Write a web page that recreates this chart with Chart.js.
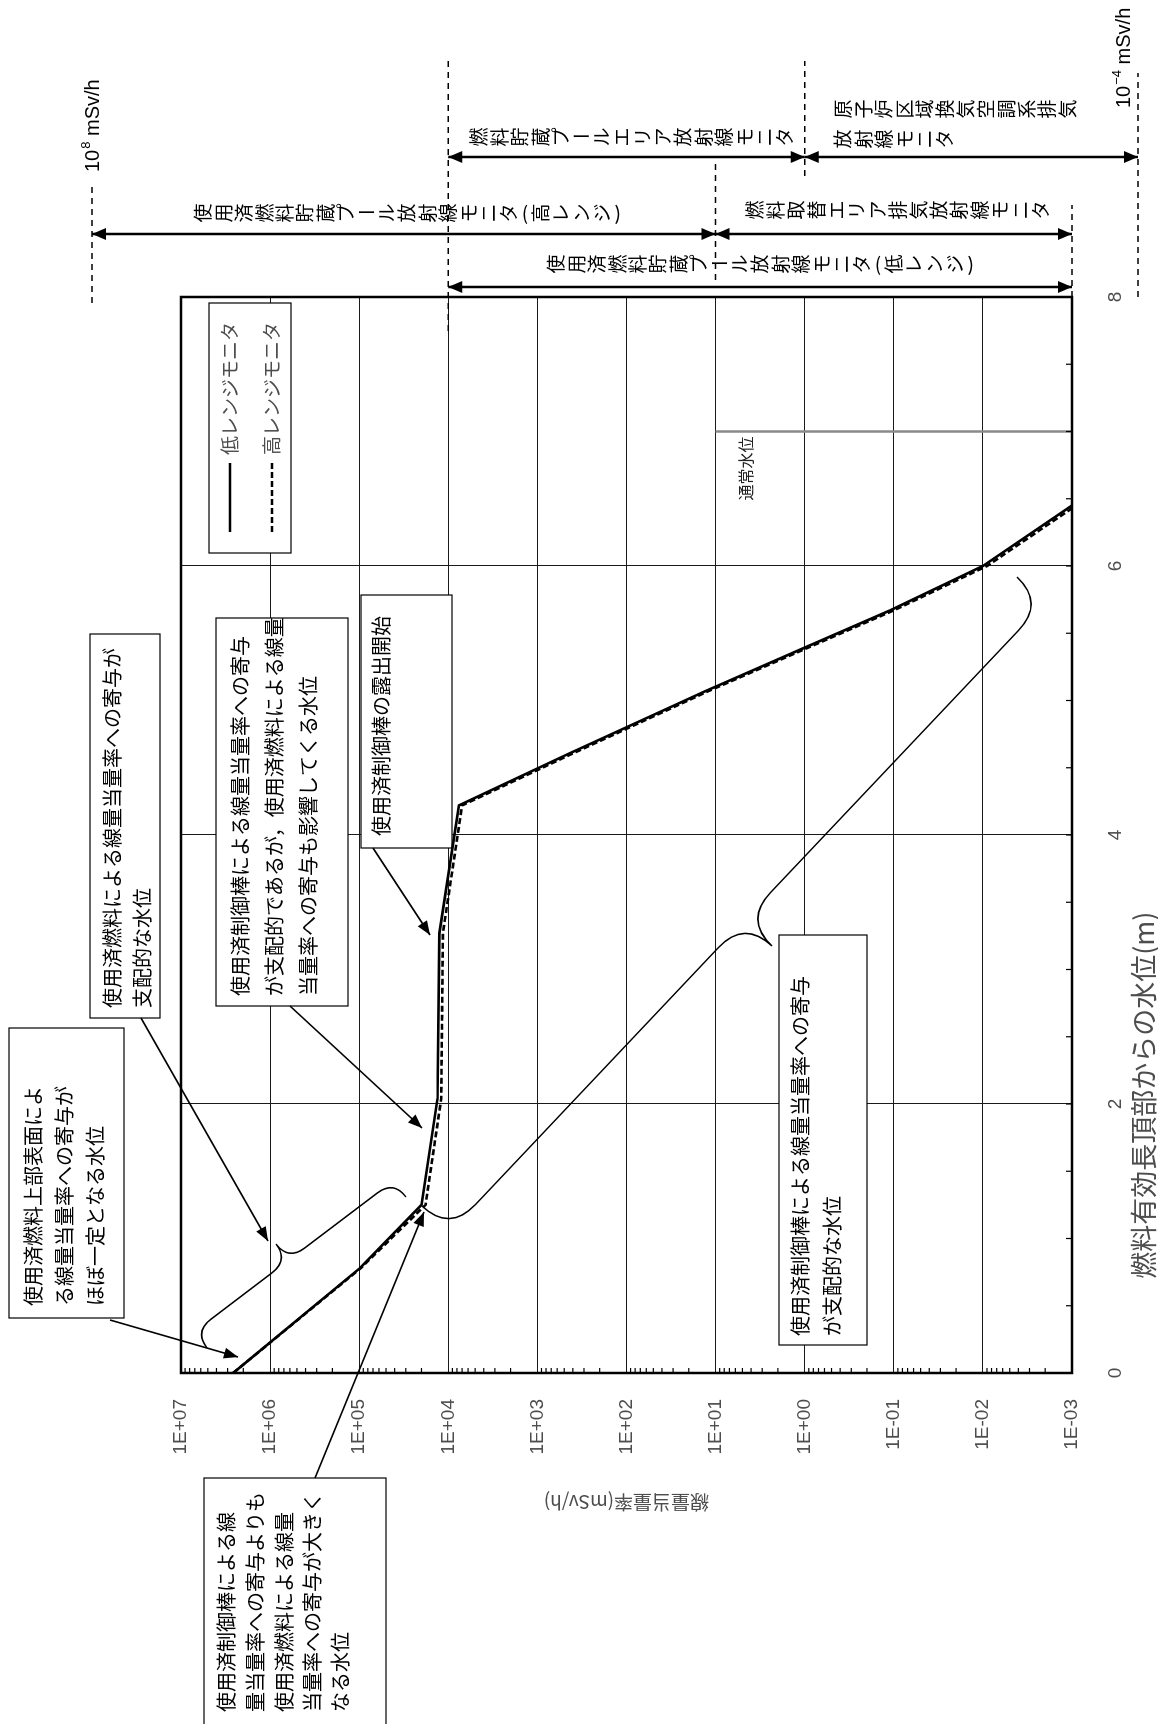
<!DOCTYPE html>
<html lang="ja">
<head>
<meta charset="UTF-8">
<title>燃料有効長頂部からの水位と線量当量率</title>
<script src="https://cdn.jsdelivr.net/npm/chart.js"></script>
<style>
  body { margin: 0; padding: 0; background: #ffffff; width: 1158px; height: 1724px; overflow: hidden; }
  /* the figure is drawn in landscape and then turned a quarter to the left, like the printed page */
  #sheet { position: absolute; left: 0; top: 0; width: 1724px; height: 1158px;
           transform-origin: 0 0; transform: translate(0, 1724px) rotate(-90deg); }
  canvas { display: block; }
</style>
</head>
<body>
<div id="sheet"><canvas id="doseChart" width="1724" height="1158"></canvas></div>
<script>
// ---- values ----
var waterLevel    = [0, 0.78, 1.25, 2.04, 3.27, 4.22, 4.60, 5.07, 5.37, 5.67, 6.00, 6.45];
var lowRangeDose  = [2.6e6, 9.8e4, 2.0e4, 1.32e4, 1.26e4, 7.6e3, 4.6e2, 1.3e1, 1.2e0, 1.1e-1, 1.0e-2, 1.0e-3];
var highRangeDose = [2.6e6, 9.6e4, 1.8e4, 1.2e4, 1.15e4, 7.0e3, 4.2e2, 1.2e1, 1.1e0, 1.0e-1, 9.0e-3, 9.0e-4];
var seriesNames   = ['低レンジモニタ', '高レンジモニタ'];

var doseTicks  = [1e7, 1e6, 1e5, 1e4, 1e3, 1e2, 1e1, 1e0, 1e-1, 1e-2, 1e-3];
var levelTicks = [0, 2, 4, 6, 8];

var normalLevel = 7.0;          // grey line
var normalLevelFromDose = 1e1;
var normalLevelLabel = '通常水位';

// monitor measuring ranges (dose at both ends)
var monitorNames = ['使用済燃料貯蔵プール放射線モニタ(高レンジ)', '燃料取替エリア排気放射線モニタ',
                    '使用済燃料貯蔵プール放射線モニタ(低レンジ)', '燃料貯蔵プールエリア放射線モニタ',
                    '原子炉区域換気空調系排気'];
var monitorFrom = [1e8, 1e1, 1e4, 1e4, 1e0];
var monitorTo   = [1e1, 1e-3, 1e-3, 1e0, 1e-4];

var SHEET_W = 1724;
var FONT_JP = '"Noto Sans CJK JP", "Noto Sans", sans-serif';
var FONT_LAT = '"Liberation Sans", Arial, sans-serif';

// position helper: measured on the printed (turned) page, drawn on the landscape sheet
function toSheet(ix, iy) { return { x: SHEET_W - iy, y: ix }; }

// annotation boxes: box = [left, top, right, bottom] on the page, lineX = page x of each line, startY = page y where text starts
var notes = [
  { box: [9, 1028, 124, 1318], lineX: [33, 64, 95], startY: 1306,
    lines: ['使用済燃料上部表面によ', 'る線量当量率への寄与が', 'ほぼ一定となる水位'] },
  { box: [90, 634, 160, 1018], lineX: [112, 142], startY: 1008,
    lines: ['使用済燃料による線量当量率への寄与が', '支配的な水位'] },
  { box: [216, 618, 348, 1006], lineX: [240, 274, 308], startY: 996,
    lines: ['使用済制御棒による線量当量率への寄与', 'が支配的であるが，使用済燃料による線量', '当量率への寄与も影響してくる水位'] },
  { box: [361, 595, 452, 848], lineX: [381], startY: 836,
    lines: ['使用済制御棒の露出開始'] },
  { box: [779, 935, 867, 1345], lineX: [800, 832], startY: 1336,
    lines: ['使用済制御棒による線量当量率への寄与', 'が支配的な水位'] },
  { box: [204, 1478, 386, 1726], lineX: [226, 255, 284, 312, 340], startY: 1712,
    lines: ['使用済制御棒による線', '量当量率への寄与よりも', '使用済燃料による線量', '当量率への寄与が大きく', 'なる水位'] }
];
var noteArrows = [
  [110, 1320, 238, 1357],
  [141, 1018, 268, 1241],
  [290, 1006, 422, 1128],
  [373, 848, 430, 935],
  [315, 1478, 424, 1212]
];
// braces: two ends and the tip of the middle nub
var braces = [
  [207, 1348, 406, 1197, 276, 1244],
  [422, 1206, 1017, 577, 772, 946]
];

function sciLabel(v) {
  var e = Math.round(Math.log10(v));
  var a = Math.abs(e);
  return '1E' + (e < 0 ? '-' : '+') + (a < 10 ? '0' : '') + a;
}

function line(ctx, p, q) { ctx.beginPath(); ctx.moveTo(p.x, p.y); ctx.lineTo(q.x, q.y); ctx.stroke(); }

function arrowHead(ctx, from, to, len, hw) {
  var dx = to.x - from.x, dy = to.y - from.y, L = Math.sqrt(dx * dx + dy * dy);
  var ux = dx / L, uy = dy / L;
  ctx.beginPath();
  ctx.moveTo(to.x, to.y);
  ctx.lineTo(to.x - ux * len - uy * hw, to.y - uy * len + ux * hw);
  ctx.lineTo(to.x - ux * len + uy * hw, to.y - uy * len - ux * hw);
  ctx.closePath();
  ctx.fill();
}

function drawBrace(ctx, A, B, N) {
  var dx = B.x - A.x, dy = B.y - A.y, L = Math.sqrt(dx * dx + dy * dy);
  var u = { x: dx / L, y: dy / L };
  var n = { x: -u.y, y: u.x };
  var depth = (N.x - A.x) * n.x + (N.y - A.y) * n.y;
  if (depth < 0) { n.x = -n.x; n.y = -n.y; depth = -depth; }
  var t = (N.x - A.x) * u.x + (N.y - A.y) * u.y;
  var h = depth / 2;
  function P(s, d) { return { x: A.x + u.x * s + n.x * d, y: A.y + u.y * s + n.y * d }; }
  ctx.beginPath();
  var p = P(0, 0); ctx.moveTo(p.x, p.y);
  var c = P(0, h), e = P(h, h); ctx.quadraticCurveTo(c.x, c.y, e.x, e.y);
  e = P(t - h, h); ctx.lineTo(e.x, e.y);
  c = P(t, h); e = P(t, depth); ctx.quadraticCurveTo(c.x, c.y, e.x, e.y);
  c = P(t, h); e = P(t + h, h); ctx.quadraticCurveTo(c.x, c.y, e.x, e.y);
  e = P(L - h, h); ctx.lineTo(e.x, e.y);
  c = P(L, h); e = P(L, 0); ctx.quadraticCurveTo(c.x, c.y, e.x, e.y);
  ctx.stroke();
}

// vertical writing, one character under the other (brackets take half a cell)
function drawTate(ctx, text, x, y0, pitch) {
  var y = y0;
  for (var i = 0; i < text.length; i++) {
    var ch = text.charAt(i);
    var turned = 'ー()（）'.indexOf(ch) >= 0;
    var cell = (ch === '(' || ch === ')') ? pitch * 0.55 : pitch;
    ctx.save();
    ctx.translate(x, y + cell / 2);
    if (turned) ctx.rotate(Math.PI / 2);
    ctx.fillText(ch, 0, 0);
    ctx.restore();
    y += cell;
  }
}

function unitLabel(ctx, x, y, exp) {
  ctx.textAlign = 'left';
  ctx.textBaseline = 'alphabetic';
  ctx.font = '20px ' + FONT_LAT;
  ctx.fillText('10', x, y);
  var w = ctx.measureText('10').width;
  ctx.font = '13px ' + FONT_LAT;
  ctx.fillText(exp, x + w + 1, y - 9);
  var w2 = ctx.measureText(exp).width;
  ctx.font = '20px ' + FONT_LAT;
  ctx.fillText(' mSv/h', x + w + w2 + 1, y);
}

var figureExtras = {
  id: 'figureExtras',
  beforeDatasetsDraw: function (chart) {
    var ctx = chart.ctx, xs = chart.scales.x, ys = chart.scales.y, a = chart.chartArea;
    ctx.save();
    // grey line at the normal water level
    ctx.strokeStyle = '#8a8a8a';
    ctx.lineWidth = 2.5;
    var x7 = xs.getPixelForValue(normalLevel);
    var y7 = ys.getPixelForValue(normalLevelFromDose);
    line(ctx, { x: x7, y: y7 }, { x: x7, y: a.bottom });
    ctx.fillStyle = '#222222';
    ctx.font = '16px ' + FONT_JP;
    ctx.textAlign = 'right';
    ctx.textBaseline = 'middle';
    ctx.fillText(normalLevelLabel, x7 - 5, y7 + 30);

    // note boxes (white, they hide the grid)
    notes.forEach(function (nt) {
      var p = toSheet(nt.box[0], nt.box[3]), q = toSheet(nt.box[2], nt.box[1]);
      ctx.fillStyle = '#ffffff';
      ctx.fillRect(p.x, p.y, q.x - p.x, q.y - p.y);
      ctx.strokeStyle = '#000000';
      ctx.lineWidth = 1.2;
      ctx.strokeRect(p.x, p.y, q.x - p.x, q.y - p.y);
      ctx.fillStyle = '#000000';
      ctx.font = '20px ' + FONT_JP;
      ctx.textAlign = 'left';
      ctx.textBaseline = 'middle';
      nt.lines.forEach(function (txt, i) {
        var s = toSheet(nt.lineX[i], nt.startY);
        ctx.fillText(txt, s.x, s.y);
      });
    });

    // legend
    var lp = toSheet(209, 553), lq = toSheet(291, 303);
    ctx.fillStyle = '#ffffff';
    ctx.fillRect(lp.x, lp.y, lq.x - lp.x, lq.y - lp.y);
    ctx.strokeStyle = '#000000';
    ctx.lineWidth = 1.2;
    ctx.strokeRect(lp.x, lp.y, lq.x - lp.x, lq.y - lp.y);
    var rowX = [230, 272];
    chart.data.datasets.forEach(function (ds, i) {
      var s1 = toSheet(rowX[i], 532), s2 = toSheet(rowX[i], 463), t = toSheet(rowX[i], 455);
      ctx.strokeStyle = ds.borderColor;
      ctx.lineWidth = 2.5;
      ctx.setLineDash(ds.borderDash || []);
      line(ctx, s1, s2);
      ctx.setLineDash([]);
      ctx.fillStyle = '#4d4d4d';
      ctx.font = '19px ' + FONT_JP;
      ctx.textAlign = 'left';
      ctx.textBaseline = 'middle';
      ctx.fillText(ds.label, t.x, t.y);
    });
    ctx.restore();
  },
  afterDraw: function (chart) {
    var ctx = chart.ctx, xs = chart.scales.x, ys = chart.scales.y, a = chart.chartArea;
    ctx.save();
    // frame
    ctx.strokeStyle = '#000000';
    ctx.lineWidth = 2.5;
    ctx.strokeRect(a.left, a.top, a.right - a.left, a.bottom - a.top);
    // inner minor ticks
    ctx.lineWidth = 1.2;
    for (var d = -3; d < 7; d++) {
      for (var k = 2; k <= 9; k++) {
        var py = ys.getPixelForValue(k * Math.pow(10, d));
        line(ctx, { x: a.left, y: py }, { x: a.left + 5, y: py });
      }
    }
    for (var lv = 0.5; lv < 8; lv += 0.5) {
      var px = xs.getPixelForValue(lv);
      line(ctx, { x: px, y: a.bottom }, { x: px, y: a.bottom - 6 });
    }

    // x axis title (sits off centre, towards the low water end)
    ctx.fillStyle = '#4d4d4d';
    ctx.font = '27px ' + FONT_JP;
    ctx.textAlign = 'left';
    ctx.textBaseline = 'middle';
    ctx.fillText('燃料有効長頂部からの水位(m)', xs.getPixelForValue(0.7), 1144);

    // note arrows
    ctx.fillStyle = '#000000';
    ctx.strokeStyle = '#000000';
    ctx.lineWidth = 1.6;
    noteArrows.forEach(function (ar) {
      var p = toSheet(ar[0], ar[1]), q = toSheet(ar[2], ar[3]);
      line(ctx, p, q);
      arrowHead(ctx, p, q, 14, 5.5);
    });
    // braces
    ctx.lineWidth = 1.5;
    braces.forEach(function (b) {
      drawBrace(ctx, toSheet(b[0], b[1]), toSheet(b[2], b[3]), toSheet(b[4], b[5]));
    });

    // monitor ranges beyond the top of the plot
    function doseY(v) { return v < 1e-3 ? a.bottom + 66 : ys.getPixelForValue(v); }
    ctx.lineWidth = 1.5;
    ctx.setLineDash([6, 5]);
    [[1e8, 183, 303], [1e4, 61, 331], [1e1, 160, 280], [1e0, 61, 176], [1e-3, 205, 297], [1e-4, 73, 297]]
      .forEach(function (g) {
        var y = doseY(g[0]);
        line(ctx, { x: SHEET_W - g[2], y: y }, { x: SHEET_W - g[1], y: y });
      });
    ctx.setLineDash([]);
    var rowY = [234, 234, 287, 157, 157];
    ctx.lineWidth = 2.5;
    monitorFrom.forEach(function (v, i) {
      var x = SHEET_W - rowY[i];
      var p = { x: x, y: doseY(v) }, q = { x: x, y: doseY(monitorTo[i]) };
      line(ctx, p, q);
      arrowHead(ctx, p, q, 14, 6);
      arrowHead(ctx, q, p, 14, 6);
    });
    // monitor names, written vertically
    ctx.fillStyle = '#000000';
    ctx.font = '19px ' + FONT_JP;
    ctx.textAlign = 'center';
    ctx.textBaseline = 'middle';
    var nameCol = [213, 210, 264, 137, 109];
    var nameStart = [193, 745, 546, 469, 833];
    monitorNames.forEach(function (nm, i) {
      drawTate(ctx, nm, SHEET_W - nameCol[i], nameStart[i], 20.4);
    });
    drawTate(ctx, '放射線モニタ', SHEET_W - 139, 833, 20.4);

    unitLabel(ctx, SHEET_W - 172, doseY(1e8) + 7, '8');
    unitLabel(ctx, SHEET_W - 108, doseY(1e-4) - 8, '−4');
    ctx.restore();
  }
};

function points(ys) {
  return waterLevel.map(function (x, i) { return { x: x, y: ys[i] }; });
}

new Chart(document.getElementById('doseChart'), {
  type: 'scatter',
  data: {
    datasets: [
      { label: seriesNames[0], data: points(lowRangeDose), showLine: true, borderColor: '#000000',
        borderWidth: 2.6, pointRadius: 0, tension: 0 },
      { label: seriesNames[1], data: points(highRangeDose), showLine: true, borderColor: '#000000',
        borderWidth: 2.6, borderDash: [6, 3], pointRadius: 0, tension: 0 }
    ]
  },
  options: {
    responsive: false,
    animation: false,
    layout: { padding: { left: 190, right: 297, top: 181, bottom: 0 } },
    plugins: { legend: { display: false }, tooltip: { enabled: false } },
    scales: {
      x: {
        type: 'linear', min: 0, max: 8,
        afterBuildTicks: function (s) { s.ticks = levelTicks.map(function (v) { return { value: v }; }); },
        afterFit: function (s) { s.height = 86; },
        ticks: { padding: 32, color: '#4d4d4d', font: { family: FONT_LAT, size: 19 } },
        grid: { color: '#1a1a1a', lineWidth: 1, drawTicks: false },
        border: { display: false },
        title: { display: false }
      },
      y: {
        type: 'logarithmic', min: 1e-3, max: 1e7,
        afterBuildTicks: function (s) { s.ticks = doseTicks.map(function (v) { return { value: v }; }); },
        afterFit: function (s) { s.width = 161; },
        ticks: { padding: 26, autoSkip: false, color: '#4d4d4d', font: { family: FONT_LAT, size: 19 },
                 callback: function (v) { return sciLabel(v); } },
        grid: { color: '#1a1a1a', lineWidth: 1, drawTicks: false },
        border: { display: false },
        title: { display: true, text: '線量当量率(mSv/h)', color: '#4d4d4d',
                 font: { family: FONT_JP, size: 19 }, padding: { top: 20, bottom: 0 } }
      }
    }
  },
  plugins: [figureExtras]
});
</script>
</body>
</html>
